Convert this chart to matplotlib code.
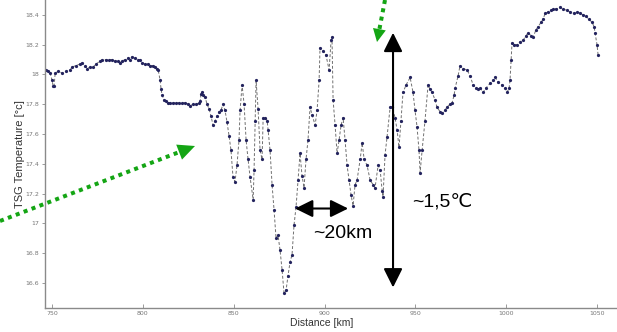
import matplotlib
matplotlib.use("Agg")
import matplotlib.pyplot as plt
from matplotlib.patches import Polygon
from matplotlib.lines import Line2D

# Along-track thermosalinograph temperature
distance_km = [
    746.7, 747.8, 748.9, 750.0, 750.6, 751.1, 751.7, 753.3, 755.5, 757.7,
    759.9, 761.0, 763.2, 765.4, 766.5, 768.2, 769.3, 770.9, 772.6, 774.2,
    776.4, 777.5, 779.7, 781.4, 783.0, 784.7, 786.3, 787.4, 788.5, 790.2,
    791.8, 792.9, 794.0, 795.7, 797.3, 798.4, 799.5, 801.2, 802.8, 803.9,
    805.6, 806.7, 807.8, 808.4, 809.5, 810.0, 810.6, 811.7, 812.8, 813.9,
    815.0, 816.6, 818.3, 819.9, 821.6, 823.2, 824.9, 826.0, 827.6, 829.3,
    830.9, 831.5, 832.0, 832.6, 833.1, 834.2, 835.3, 836.4, 837.5, 838.6,
    839.7, 840.8, 841.9, 843.0, 844.1, 845.2, 846.3, 847.4, 848.5, 849.6,
    850.7, 851.8, 852.9, 853.5, 854.6, 855.7, 856.8, 857.9, 859.0, 860.7,
    861.2, 861.8, 862.3, 863.4, 864.5, 865.6, 866.2, 867.3, 868.4, 868.9,
    870.0, 871.1, 872.2, 873.3, 874.4, 875.5, 876.6, 877.7, 878.8, 879.9,
    881.0, 882.1, 883.2, 884.3, 885.4, 886.5, 887.6, 888.7, 889.8, 890.9,
    892.0, 893.1, 894.8, 895.9, 897.0, 897.5, 899.2, 900.8, 902.5, 903.6,
    904.1, 904.7, 905.8, 906.9, 908.0, 909.1, 910.2, 911.3, 912.4, 913.5,
    914.6, 915.7, 916.8, 917.9, 919.6, 920.7, 921.8, 923.4, 925.1, 926.7,
    927.8, 929.5, 930.6, 931.7, 932.2, 933.3, 934.4, 936.1, 937.2, 938.8,
    939.9, 941.0, 942.1, 943.2, 944.9, 947.1, 948.7, 949.8, 950.9, 952.0,
    952.6, 953.7, 955.3, 957.0, 958.1, 959.2, 960.8, 961.9, 963.6, 964.7,
    966.3, 967.4, 969.1, 970.2, 971.3, 971.9, 973.5, 974.6, 976.3, 978.5,
    980.1, 981.8, 983.4, 984.5, 985.6, 987.3, 988.9, 991.1, 992.8, 993.9,
    995.5, 997.7, 999.4, 1000.5, 1001.6, 1002.1, 1002.7, 1003.2, 1004.3, 1006.0,
    1007.6, 1009.3, 1010.9, 1012.0, 1013.7, 1014.8, 1016.4, 1017.5, 1019.2, 1020.3,
    1021.4, 1023.0, 1024.7, 1025.8, 1027.5, 1029.7, 1031.3, 1033.5, 1035.2, 1037.4,
    1039.0, 1040.7, 1042.3, 1044.0, 1045.6, 1047.3, 1048.4, 1048.9, 1050.0, 1050.6,
]
temperature_c = [
    18.03, 18.02, 18.01, 17.96, 17.92, 17.92, 18.01, 18.02, 18.01, 18.02,
    18.03, 18.05, 18.06, 18.07, 18.08, 18.06, 18.04, 18.05, 18.05, 18.07,
    18.09, 18.10, 18.10, 18.10, 18.10, 18.09, 18.09, 18.08, 18.09, 18.10,
    18.11, 18.10, 18.12, 18.11, 18.10, 18.10, 18.08, 18.07, 18.07, 18.06,
    18.06, 18.05, 18.04, 18.03, 17.96, 17.90, 17.86, 17.83, 17.82, 17.81,
    17.81, 17.81, 17.81, 17.81, 17.81, 17.81, 17.80, 17.79, 17.80, 17.80,
    17.81, 17.82, 17.87, 17.88, 17.86, 17.85, 17.80, 17.77, 17.72, 17.66,
    17.69, 17.72, 17.75, 17.76, 17.80, 17.76, 17.68, 17.59, 17.49, 17.31,
    17.28, 17.39, 17.56, 17.76, 17.93, 17.80, 17.56, 17.43, 17.31, 17.16,
    17.36, 17.69, 17.96, 17.77, 17.49, 17.43, 17.71, 17.71, 17.69, 17.63,
    17.49, 17.26, 17.09, 16.90, 16.92, 16.82, 16.69, 16.53, 16.55, 16.65,
    16.74, 16.79, 16.99, 17.11, 17.29, 17.47, 17.32, 17.24, 17.43, 17.56,
    17.78, 17.73, 17.66, 17.76, 17.96, 18.18, 18.16, 18.13, 18.03, 18.23,
    18.25, 17.83, 17.66, 17.47, 17.56, 17.66, 17.71, 17.56, 17.39, 17.29,
    17.19, 17.12, 17.26, 17.29, 17.43, 17.54, 17.43, 17.39, 17.29, 17.26,
    17.24, 17.39, 17.36, 17.22, 17.18, 17.46, 17.58, 17.78, 17.78, 17.71,
    17.63, 17.51, 17.69, 17.88, 17.93, 17.98, 17.88, 17.76, 17.65, 17.49,
    17.34, 17.49, 17.69, 17.93, 17.90, 17.88, 17.83, 17.78, 17.75, 17.74,
    17.76, 17.78, 17.80, 17.81, 17.86, 17.91, 17.99, 18.06, 18.04, 18.03,
    17.99, 17.93, 17.91, 17.90, 17.91, 17.88, 17.91, 17.94, 17.96, 17.98,
    17.95, 17.93, 17.91, 17.88, 17.91, 17.96, 18.10, 18.21, 18.20, 18.20,
    18.22, 18.23, 18.26, 18.28, 18.26, 18.25, 18.30, 18.32, 18.35, 18.37,
    18.41, 18.42, 18.43, 18.44, 18.44, 18.45, 18.44, 18.43, 18.42, 18.41,
    18.42, 18.41, 18.40, 18.39, 18.37, 18.35, 18.32, 18.28, 18.20, 18.13,
]

x_ticks = [750, 800, 850, 900, 950, 1000, 1050]
y_ticks = [16.6, 16.8, 17.0, 17.2, 17.4, 17.6, 17.8, 18.0, 18.2, 18.4]
y_tick_labels = ["16.6", "16.8", "17", "17.2", "17.4", "17.6", "17.8", "18", "18.2", "18.4"]

# Annotated features (data units)
front_x = 937.7
front_span = (16.57, 18.28)
eddy_y = 17.10
eddy_span = (883.8, 913.0)

W, H = 617, 332
fig = plt.figure(figsize=(W / 100, H / 100), dpi=100)
fig.patch.set_facecolor("white")
ax = fig.add_axes([45 / W, 24 / H, 1 - 45 / W, 1 - 24 / H])
ax.set_facecolor("white")

ax.plot(distance_km, temperature_c, linestyle=(0, (3, 2)), color="#707070",
        linewidth=0.7, marker=".", markersize=2.6,
        markerfacecolor="#23235e", markeredgecolor="#23235e", zorder=2)

ax.set_xlim(746.1, 1061.0)
ax.set_ylim(16.432, 18.5)
ax.set_xticks(x_ticks)
ax.set_xticklabels([str(t) for t in x_ticks])
ax.set_yticks(y_ticks)
ax.set_yticklabels(y_tick_labels)

for side in ("top", "right"):
    ax.spines[side].set_visible(False)
for side in ("left", "bottom"):
    ax.spines[side].set_color("#8a8a8a")
    ax.spines[side].set_linewidth(1.0)

ax.tick_params(axis="x", direction="in", length=3, width=0.6, color="#8a8a8a",
               labelsize=4.5, labelcolor="#777777", pad=2.5)
ax.tick_params(axis="y", direction="out", length=2.5, width=0.6, color="#8a8a8a",
               labelsize=4.5, labelcolor="#777777", pad=1.5)

ax.set_xlabel("Distance [km]", fontsize=7.5, color="#333333", family="Liberation Sans")
ax.set_ylabel("TSG Temperature [°c]", fontsize=8, color="#333333", family="Liberation Sans")
ax.xaxis.set_label_coords(0.484, -0.034)
ax.yaxis.set_label_coords(-0.035, 0.5)

# Black double arrows marking the feature scales
ax.annotate("", xy=(front_x, front_span[1]), xytext=(front_x, front_span[0]),
            arrowprops=dict(arrowstyle="<|-|>,head_length=0.8,head_width=0.4",
                            mutation_scale=14.4, color="black", lw=1.5,
                            shrinkA=0, shrinkB=0), zorder=5)
ax.annotate("", xy=(eddy_span[1], eddy_y), xytext=(eddy_span[0], eddy_y),
            arrowprops=dict(arrowstyle="<|-|>,head_length=0.85,head_width=0.42",
                            mutation_scale=12.6, color="black", lw=1.5,
                            shrinkA=0, shrinkB=0), zorder=5)

txt_font = ["Liberation Sans", "DejaVu Sans"]
fig.text(313 / W, 1 - 233 / H, "~20km", fontsize=14, family=txt_font,
         ha="left", va="center", color="black")
fig.text(412 / W, 1 - 202 / H, "~1,5\u2103", fontsize=14, family=txt_font,
         ha="left", va="center", color="black")


def px(x, y):
    return (x / W, 1 - y / H)


def green_arrow(start, base, corner_a, corner_b, tip):
    (x0, y0), (x1, y1) = px(*start), px(*base)
    fig.add_artist(Line2D([x0, x1], [y0, y1], transform=fig.transFigure,
                          color="#14a514", linewidth=2.9,
                          linestyle=(0, (1, 1.1)), dash_capstyle="butt"))
    fig.add_artist(Polygon([px(*corner_a), px(*tip), px(*corner_b)], closed=True,
                           transform=fig.transFigure, facecolor="#14a514",
                           edgecolor="none"))


green_arrow((0, 221), (179.1, 152.1), (182.0, 159.6), (176.2, 144.6), (195, 146))
green_arrow((385, 0), (379.4, 29.2), (385.8, 30.4), (373.0, 28.0), (377, 42))

fig.savefig("out.png", dpi=100, facecolor="white")
